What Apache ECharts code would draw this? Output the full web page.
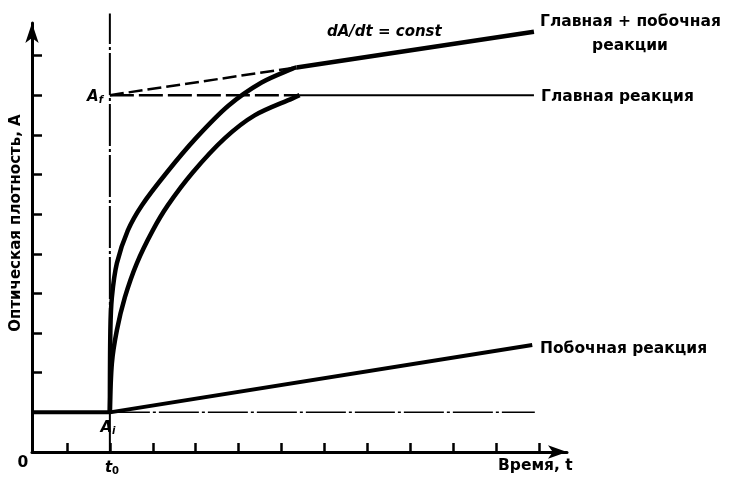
<!DOCTYPE html>
<html>
<head>
<meta charset="utf-8">
<script src="https://cdn.jsdelivr.net/npm/echarts@6/dist/echarts.min.js"></script>
<style>html,body{margin:0;padding:0;background:#fff}#c{width:736px;height:477px}</style>
</head>
<body>
<div id="c"></div>
<script>
// ---- data (axis units: one tick step = 1) ----
const xTicks = [1,2,3,4,5,6,7,8,9,10,11,12];
const yTicks = [1,2,3,4,5,6,7,8,9,10];
const t0 = 2;
const Ai = 1;
const Af = 9;
// Главная + побочная реакции (curved part)
const combinedCurve = [[2.000,1.00],[2.012,3.07],[2.047,3.90],[2.163,4.76],[2.419,5.59],[2.744,6.22],[3.326,7.05],[4.000,7.91],[4.767,8.74],[5.535,9.32],[6.256,9.67],[6.35,9.70]];
// Главная + побочная реакции (linear part, dA/dt = const)
const combinedLine = [[6.35,9.70],[11.88,10.60]];
// extrapolation of linear part back to t0
const tangentLine = [[2.0,9.0],[6.35,9.70]];
// Главная реакция
const mainCurve = [[2.000,1.00],[2.047,2.24],[2.163,3.07],[2.349,3.90],[2.628,4.76],[3.000,5.59],[3.349,6.22],[3.930,7.05],[4.674,7.91],[5.372,8.49],[6.256,8.92],[6.42,9.00]];
const mainPlateau = [[6.42,9.00],[11.88,9.00]];
const mainDashed = [[2.0,9.0],[6.42,9.0]];
// Побочная реакция
const sideLine = [[2.0,1.0],[11.84,2.70]];
const baseSolid = [[0.186,1.0],[2.0,1.0]];
const baseDashed = [[2.0,1.0],[11.9,1.0]];
const t0Line = [[2.0,0],[2.0,11.06]];

const chart = echarts.init(document.getElementById('c'), null, {renderer:'canvas'});
const FONT = '"DejaVu Sans", "Liberation Sans", sans-serif';
const black = '#000';
function line(data, width, type, extra) {
  return Object.assign({
    type:'line', data, symbol:'none', silent:true, clip:false,
    lineStyle:{color:black, width, type: type || 'solid', cap:'butt', join:'round'},
    z: 3
  }, extra || {});
}
const txt = (x, y, text, opt) => ({
  type:'text', x, y, silent:true,
  style: Object.assign({text, fill:black, font:'bold 15.5px ' + FONT, textAlign:'left', textVerticalAlign:'middle'}, opt || {})
});
const sub = (x, y, main, s, italicSub) => ({
  type:'text', x, y, silent:true,
  style:{text:'{a|' + main + '}{s|' + s + '}', fill:black, textAlign:'center', textVerticalAlign:'middle',
    rich:{a:{font:'italic bold 15px ' + FONT}, s:{font:(italicSub ? 'italic ' : '') + 'bold 10px ' + FONT, padding:[7,0,0,0]}}}
});

chart.setOption({
  animation:false,
  backgroundColor:'#fff',
  grid:{left:32, right:169, top:23, bottom:25},
  xAxis:{
    type:'value', min:0.186, max:12.65,
    splitLine:{show:false},
    axisLine:{show:true, onZero:false, lineStyle:{color:black, width:3}, symbol:['none','arrow'], symbolSize:[10,19]},
    axisTick:{show:true, inside:true, length:9, lineStyle:{color:black, width:2.5}, customValues: xTicks},
    axisLabel:{show:false}
  },
  yAxis:{
    type:'value', min:0, max:10.82,
    splitLine:{show:false},
    axisLine:{show:true, onZero:false, lineStyle:{color:black, width:3}, symbol:['none','arrow'], symbolSize:[10,20]},
    axisTick:{show:true, inside:true, length:10, lineStyle:{color:black, width:2.5}, customValues: yTicks},
    axisLabel:{show:false}
  },
  series:[
    line(t0Line, 2, [42,3,3,3]),
    line(baseDashed, 1.5, [40,3,3,3]),
    line(baseSolid, 4),
    line(tangentLine, 2.5, [14,5]),
    line(mainDashed, 2.5, [24,5]),
    line(mainPlateau, 2),
    line(sideLine, 4),
    line(combinedCurve, 4.5, null, {smooth:0.3}),
    line(combinedLine, 4.5),
    line(mainCurve, 4.5, null, {smooth:0.3})
  ],
  graphic:[
    txt(327, 32, 'dA/dt = const', {font:'italic bold 15px ' + FONT}),
    txt(540, 22, 'Главная + побочная'),
    txt(630, 46, 'реакции', {textAlign:'center'}),
    txt(541, 97, 'Главная реакция'),
    txt(540, 349, 'Побочная реакция'),
    txt(498, 466, 'Время, t'),
    txt(23, 463, '0', {textAlign:'center'}),
    sub(112, 468, 't', '0', false),
    sub(108, 428, 'A', 'i', true),
    sub(95, 97, 'A', 'f', true),
    {type:'text', x:16, y:223, rotation:Math.PI/2, silent:true, style:{text:'Оптическая плотность, A', fill:black, font:'bold 15px ' + FONT, textAlign:'center', textVerticalAlign:'middle'}}
  ]
});
</script>
</body>
</html>
